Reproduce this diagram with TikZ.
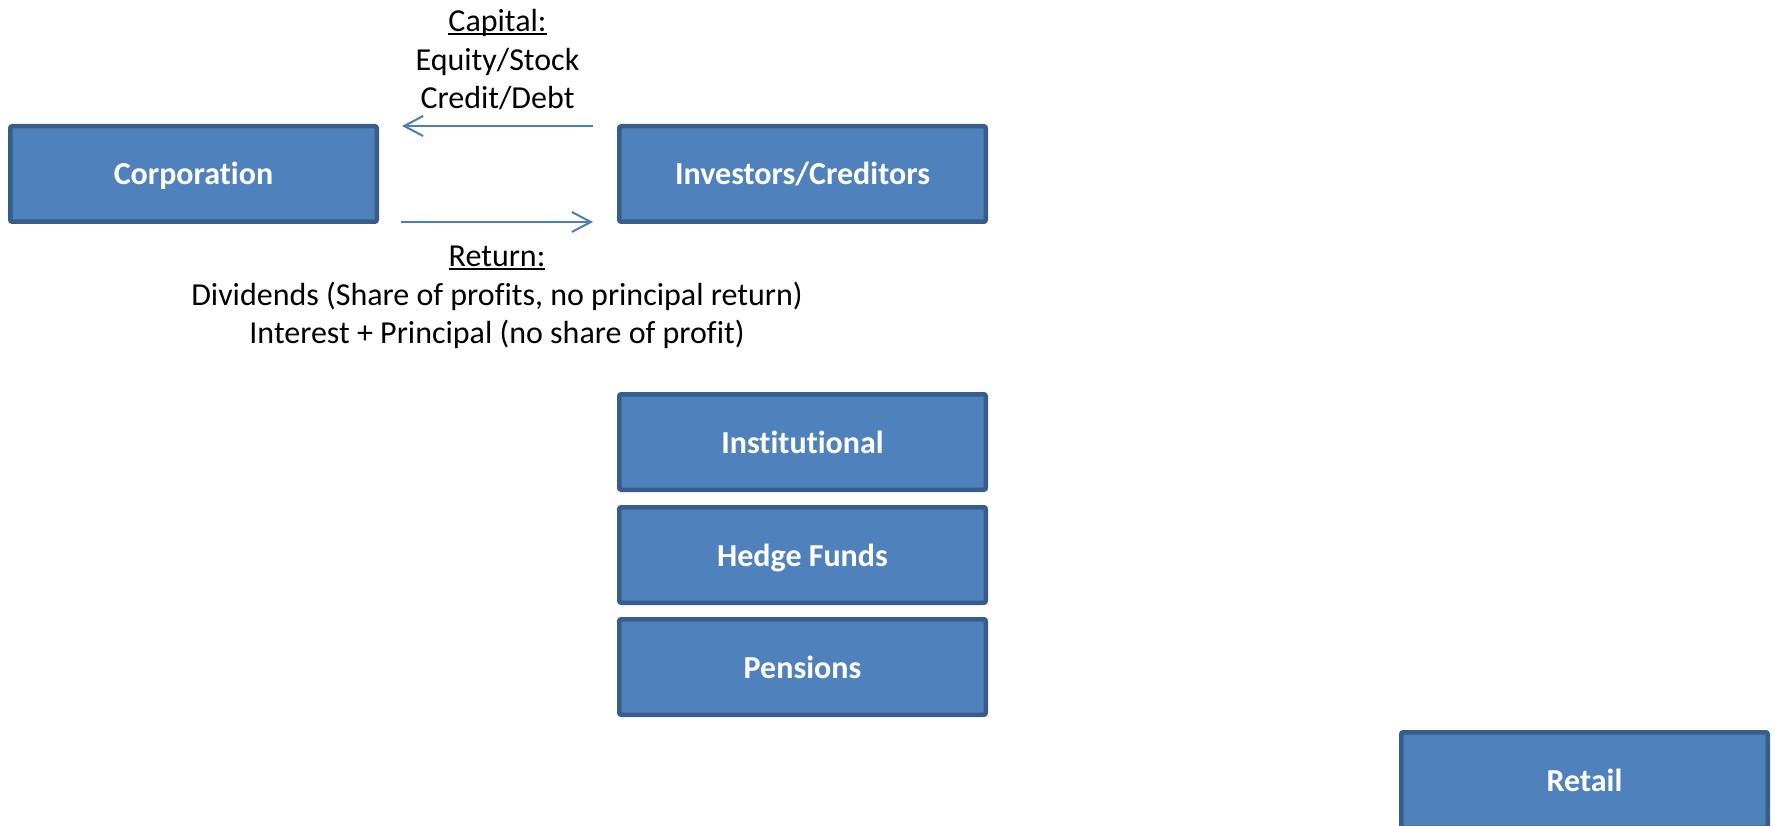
\documentclass[tikz,border=0pt]{standalone}
\usepackage{fontspec}
\setmainfont[Ligatures=NoCommon]{Carlito}
\usetikzlibrary{positioning, arrows.meta}

\definecolor{boxfill}{HTML}{4F81BD}
\definecolor{boxline}{HTML}{385D8A}
\definecolor{flowline}{HTML}{4A7EBB}

\newcommand{\ulword}[1]{\setbox0\hbox{#1}\rlap{\rule[-3.5pt]{\wd0}{2pt}}#1}

\tikzset{
  party/.style={draw=boxline, fill=boxfill, line width=4.5pt, rounded corners=2pt,
    minimum width=366.5pt, minimum height=95.5pt, inner sep=0pt, text=white,
    text height=28pt, text depth=6pt,
    font=\fontsize{32}{38.5}\selectfont\bfseries},
  flow/.style={draw=flowline, line width=2pt, -{Straight Barb[length=19pt,width=20pt]}},
  flowtext/.style={align=center, inner sep=0pt, font=\fontsize{32}{38.5}\selectfont},
}

\begin{document}
\begin{tikzpicture}[x=1pt, y=1pt]
    \useasboundingbox (0,0) rectangle (1775,-826);
    % the two sides
    \node[party] (corp) at (193.5,-174) {Corporation};
    \node[party, right=238pt of corp] (inv) {Investors/Creditors};

    % kinds of investors
    \node[party, below=168pt of inv] (inst) {Institutional};
    \node[party, below=13pt of inst] (hedge) {Hedge Funds};
    \node[party, below=12pt of hedge] (pens) {Pensions};
    \node[party, below right=13pt and 411pt of pens] (retail) {Retail};

    % money going back and forth
    \coordinate[below left=2pt and 24pt of inv.north west] (captail);
    \coordinate[below right=2pt and 23pt of corp.north east] (caphead);
    \coordinate[above right=2pt and 22pt of corp.south east] (rettail);
    \coordinate[above left=2pt and 24pt of inv.south west] (rethead);

    \draw[flow] (captail) -- node[flowtext, above=15pt]
        {\ulword{Capital:}\\Equity/Stock\\Credit/Debt} (caphead);
    \draw[flow] (rettail) -- node[flowtext, below=23pt]
        {\ulword{Return:}\\Dividends (Share of profits, no principal return)\\Interest + Principal (no share of profit)} (rethead);
\end{tikzpicture}
\end{document}
